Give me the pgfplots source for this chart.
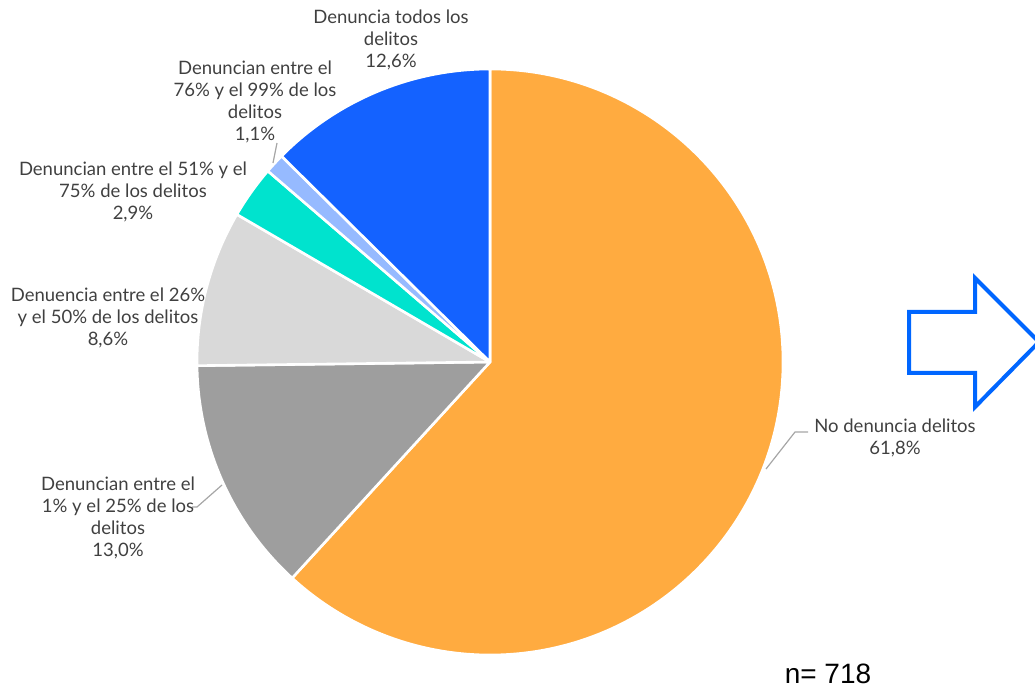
\documentclass[border=0pt]{standalone}
\usepackage{pgfplots}
\pgfplotsset{compat=1.18}
\usepackage{fontspec}
\setmainfont{Lato}
\newfontfamily\arialfont{Liberation Sans}

\definecolor{cOrange}{RGB}{255,171,64}
\definecolor{cDark}{RGB}{158,158,158}
\definecolor{cLight}{RGB}{217,217,217}
\definecolor{cTurq}{RGB}{0,227,206}
\definecolor{cSky}{RGB}{150,186,255}
\definecolor{cBlue}{RGB}{20,98,255}
\definecolor{cText}{RGB}{64,64,64}
\definecolor{cLead}{RGB}{166,166,166}
\definecolor{cArrow}{RGB}{0,102,255}

\tikzset{lbl/.style={text=cText, align=center, inner sep=0pt, font=\fontsize{18.5}{22}\selectfont}}

\begin{document}
\begin{tikzpicture}
\clip (0,0) rectangle (1035pt,688pt);
\begin{axis}[
    x=1pt, y=1pt,
    xmin=0, xmax=1035,
    ymin=0, ymax=688,
    hide axis,
    clip=false,
    anchor=south west, at={(0,0)},
  ]
  % slices, clockwise from the top: share in percent / colour
  \foreach \p/\c [remember=\e as \s (initially 90), evaluate=\p as \e using {\s-3.6*\p}] in
      {61.8/cOrange, 13.0/cDark, 8.6/cLight, 2.9/cTurq, 1.1/cSky, 12.6/cBlue} {
    \edef\temp{\noexpand\filldraw[fill=\c, draw=white, line width=2.6pt, line join=round]
      (axis cs:490,326) -- ++(\s:293pt) arc[start angle=\s, end angle=\e, radius=293pt] -- cycle;}
    \temp
  }

  % leader lines
  \draw[cLead, line width=1.2pt] (axis cs:766,219) -- (axis cs:795,256) -- (axis cs:808,256);
  \draw[cLead, line width=1.2pt] (axis cs:222,203) -- (axis cs:197,181) -- (axis cs:192,181);
  \draw[cLead, line width=1.2pt] (axis cs:277,545) -- (axis cs:273,525);

  % labels
  \node[lbl] at (axis cs:895,250) {No denuncia delitos\\61,8\%};
  \node[lbl] at (axis cs:118,170) {Denuncian entre el\\1\% y el 25\% de los\\delitos\\13,0\%};
  \node[lbl] at (axis cs:108,370) {Denuencia entre el 26\%\\y el 50\% de los delitos\\8,6\%};
  \node[lbl] at (axis cs:133,496) {Denuncian entre el 51\% y el\\75\% de los delitos\\2,9\%};
  \node[lbl] at (axis cs:255,586) {Denuncian entre el\\76\% y el 99\% de los\\delitos\\1,1\%};
  \node[lbl] at (axis cs:391,648) {Denuncia todos los\\delitos\\12,6\%};

  \node[anchor=base, inner sep=0pt, text=black, font=\arialfont\fontsize{28}{32}\selectfont]
    at (axis cs:828,5) {n= 718};

  % outlined arrow
  \draw[cArrow, line width=4pt, line join=miter]
    (axis cs:909,376) -- (axis cs:975,376) -- (axis cs:975,410) -- (axis cs:1039,346)
    -- (axis cs:975,281) -- (axis cs:975,315) -- (axis cs:909,315) -- cycle;
\end{axis}
\end{tikzpicture}
\end{document}
